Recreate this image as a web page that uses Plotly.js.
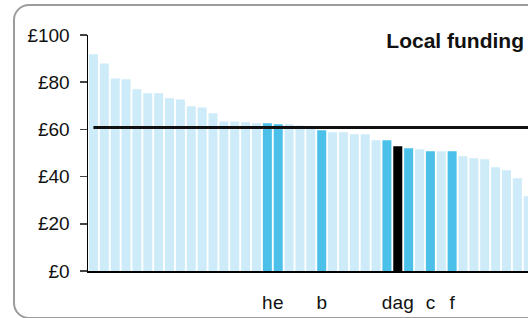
<!DOCTYPE html>
<html>
<head>
<meta charset="utf-8">
<script src="https://cdn.plot.ly/plotly-3.0.1.min.js"></script>
<style>
html, body { margin:0; padding:0; width:528px; height:318px; overflow:hidden; background:#fff; }
#frame { position:absolute; left:13px; top:4px; width:620px; height:315px; box-sizing:border-box;
  border:2px solid #9c9c9c; border-radius:16px; z-index:0; }
#chart { position:absolute; left:0; top:0; width:528px; height:318px; z-index:1; }
</style>
</head>
<body>
<div id="frame"></div>
<div id="chart"></div>
<script>
// Ranked areas (left to right)
const categories = ["1","2","3","4","5","6","7","8","9","10","11","12","13","14","15","16","17","18","19","20",
  "21","22","23","24","25","26","27","28","29","30","31","32","33","34","35","36","37","38","39","40","41"];
// Local funding per head (£)
const funding = [91.8, 87.9, 81.6, 81.2, 77.0, 75.3, 75.3, 73.2, 72.7, 69.8, 69.3, 66.8, 63.4, 63.4, 63.0, 62.6,
  62.6, 62.2, 62.2, 61.7, 61.2, 59.6, 58.8, 58.8, 57.9, 57.9, 55.4, 55.4, 52.9, 52.0, 51.6, 50.7, 50.7, 50.7,
  48.6, 47.8, 47.4, 44.0, 42.7, 39.3, 31.7];
// Group of each bar: "other", "comparator", "focus"
const groups = ["other","other","other","other","other","other","other","other","other","other","other","other",
  "other","other","other","other","comparator","comparator","other","other","other","comparator","other","other",
  "other","other","other","comparator","focus","comparator","other","comparator","other","comparator","other",
  "other","other","other","other","other","other"];
// Tick labels under bars
const tickLabels = ["","","","","","","","","","","","","","","","","h","e","","","","b","","","","","","d","a","g",
  "","c","","f","","","","","","",""];
// Benchmark (average) level
const benchmark = 60.8;
const yTicks = [0, 20, 40, 60, 80, 100];
const yTickLabels = ["\u00a30", "\u00a320", "\u00a340", "\u00a360", "\u00a380", "\u00a3100"];
const chartTitle = "Local funding";

const colorMap = { other: "#cdebf8", comparator: "#4bc1ea", focus: "#000000" };
const font = "Liberation Sans, Arial, sans-serif";

const bars = {
  type: "bar",
  x: categories,
  y: funding,
  marker: { color: groups.map(g => colorMap[g]), line: { width: 0 } },
  hoverinfo: "x+y",
  showlegend: false
};
const avgLine = {
  type: "scatter",
  mode: "lines",
  x: categories,
  y: categories.map(() => benchmark),
  line: { color: "#111111", width: 3 },
  hoverinfo: "y",
  showlegend: false
};

const layout = {
  width: 528, height: 318,
  margin: { l: 88, r: 0, t: 35, b: 47, pad: 0 },
  paper_bgcolor: "rgba(0,0,0,0)",
  plot_bgcolor: "rgba(0,0,0,0)",
  bargap: 0.17,
  font: { family: font, size: 19, color: "#111" },
  title: {
    text: "<b>" + chartTitle + "</b>",
    font: { family: font, size: 21, color: "#111" },
    xref: "container", x: 524/528, xanchor: "right",
    yref: "container", y: 1 - 41/318, yanchor: "middle"
  },
  xaxis: {
    type: "category",
    range: [-0.5, 39.98],
    tickvals: categories,
    ticktext: tickLabels,
    tickangle: 0,
    ticks: "",
    ticklabelstandoff: 14,
    showline: true, linecolor: "#000", linewidth: 1.5,
    showgrid: false, zeroline: false,
    tickfont: { family: font, size: 19, color: "#111" }
  },
  yaxis: {
    range: [0, 100],
    tickmode: "array",
    tickvals: yTicks,
    ticktext: yTickLabels,
    ticks: "outside", ticklen: 7, tickwidth: 1.5, tickcolor: "#444",
    ticklabelstandoff: 6,
    showline: true, linecolor: "#000", linewidth: 1.5,
    showgrid: false, zeroline: false,
    tickfont: { family: font, size: 19, color: "#111" }
  }
};

Plotly.newPlot("chart", [bars, avgLine], layout, { displayModeBar: false, staticPlot: true });
</script>
</body>
</html>
